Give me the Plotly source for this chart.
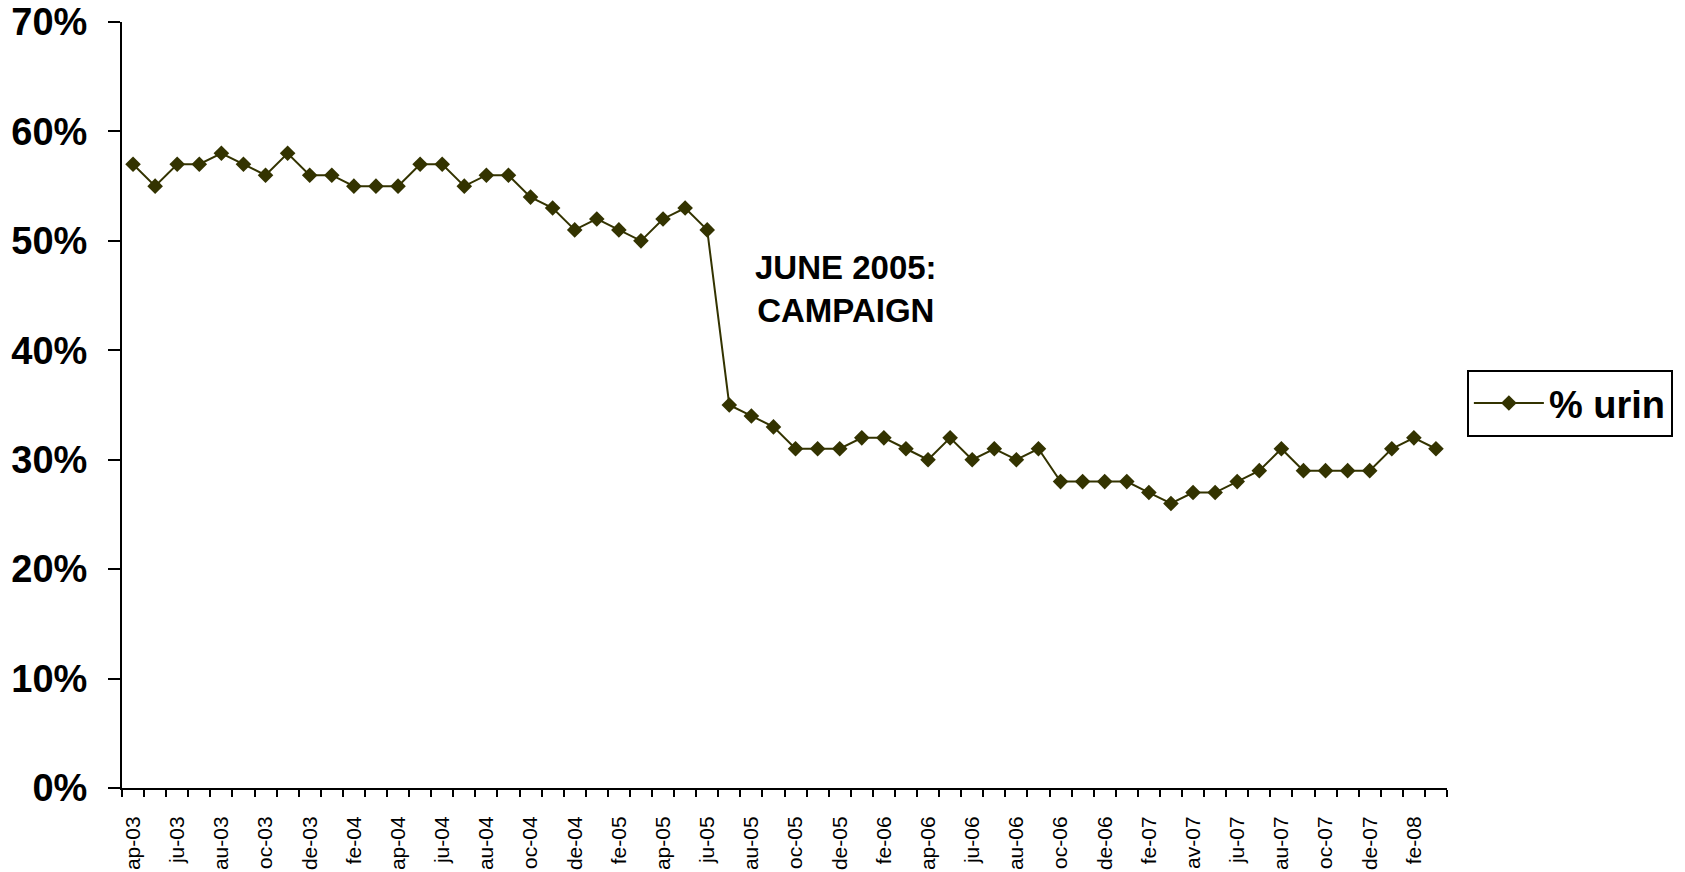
import plotly.graph_objects as go

months = ["ap-03","my-03","ju-03","jl-03","au-03","se-03","oc-03","no-03","de-03",
          "ja-04","fe-04","mr-04","ap-04","my-04","ju-04","jl-04","au-04","se-04","oc-04","no-04","de-04",
          "ja-05","fe-05","mr-05","ap-05","my-05","ju-05","jl-05","au-05","se-05","oc-05","no-05","de-05",
          "ja-06","fe-06","mr-06","ap-06","my-06","ju-06","jl-06","au-06","se-06","oc-06","no-06","de-06",
          "ja-07","fe-07","mr-07","av-07","my-07","ju-07","jl-07","au-07","se-07","oc-07","no-07","de-07",
          "ja-08","fe-08","mr-08"]

urin = [57,55,57,57,58,57,56,58,56,
        56,55,55,55,57,57,55,56,56,54,53,51,
        52,51,50,52,53,51,35,34,33,31,31,31,
        32,32,31,30,32,30,31,30,31,28,28,28,
        28,27,26,27,27,28,29,31,29,29,29,29,
        31,32,31]

tick_labels = ["ap-03","ju-03","au-03","oc-03","de-03","fe-04","ap-04","ju-04","au-04","oc-04",
               "de-04","fe-05","ap-05","ju-05","au-05","oc-05","de-05","fe-06","ap-06","ju-06",
               "au-06","oc-06","de-06","fe-07","av-07","ju-07","au-07","oc-07","de-07","fe-08"]

x_idx = list(range(len(months)))
tick_pos = x_idx[::2]

FONT = "Arial, Liberation Sans, sans-serif"
COLOR = "#333300"

fig = go.Figure()
fig.add_trace(go.Scatter(
    x=x_idx, y=urin, mode="lines+markers", name="% urin",
    line=dict(color=COLOR, width=2),
    marker=dict(symbol="diamond", size=12, color=COLOR),
))

fig.add_annotation(
    x=32.3, y=45.6, xref="x", yref="y",
    text="<b>JUNE 2005:<br>CAMPAIGN</b>", showarrow=False,
    font=dict(family=FONT, size=33, color="black"), align="center",
)

fig.update_layout(
    width=1685, height=872,
    margin=dict(l=122, r=238, t=22, b=84, autoexpand=False),
    paper_bgcolor="white", plot_bgcolor="white",
    font=dict(family=FONT, color="black"),
    showlegend=True,
    legend=dict(
        x=1.015, y=0.546, xanchor="left", yanchor="top",
        bordercolor="black", borderwidth=2, itemwidth=70,
        font=dict(family=FONT, size=38, color="black", weight="bold"),
    ),
    xaxis=dict(
        automargin=False,
        range=[-0.5, len(months) - 0.5],
        tickmode="array", tickvals=tick_pos, ticktext=tick_labels,
        tickangle=-90, ticks="", showgrid=False, zeroline=False,
        showline=True, linecolor="black", linewidth=2,
        tickfont=dict(family=FONT, size=21, color="black"),
        ticklabelstandoff=18,
        minor=dict(tickmode="array",
                   tickvals=[i - 0.5 for i in range(len(months) + 1)],
                   ticks="outside", ticklen=7, tickwidth=2, tickcolor="black",
                   showgrid=False),
    ),
    yaxis=dict(
        automargin=False,
        range=[0, 70], dtick=10, ticksuffix="%",
        ticks="outside", ticklen=12, tickwidth=2, tickcolor="black",
        showgrid=False, zeroline=False,
        showline=True, linecolor="black", linewidth=2,
        tickfont=dict(family=FONT, size=38, color="black", weight="bold"),
        ticklabelstandoff=13,
    ),
)

fig.write_html("out.html")
